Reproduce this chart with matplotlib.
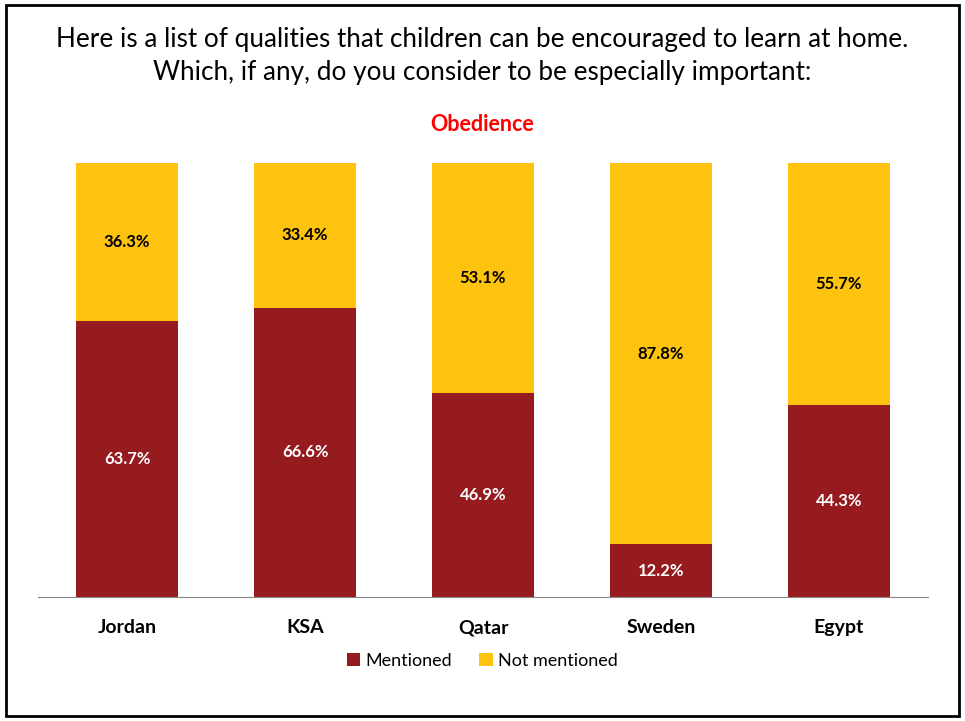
import matplotlib.pyplot as plt
from matplotlib.patches import Rectangle

plt.rcParams['font.family'] = ['Lato', 'DejaVu Sans']

# Data
countries = ['Jordan', 'KSA', 'Qatar', 'Sweden', 'Egypt']
mentioned = [63.7, 66.6, 46.9, 12.2, 44.3]
not_mentioned = [36.3, 33.4, 53.1, 87.8, 55.7]

red = '#951B1F'
yellow = '#FDC30F'

fig = plt.figure(figsize=(9.65, 7.21), dpi=100)
ax = fig.add_axes([0.0394, 0.172, 0.9223, 0.6019])

x = range(len(countries))
ax.bar(x, mentioned, width=0.57, color=red, label='Mentioned')
ax.bar(x, not_mentioned, width=0.57, bottom=mentioned, color=yellow, label='Not mentioned')

for i in x:
    ax.text(i, mentioned[i] / 2, f'{mentioned[i]:.1f}%', ha='center', va='center',
            color='white', fontsize=12, fontweight='bold')
    ax.text(i, mentioned[i] + not_mentioned[i] / 2, f'{not_mentioned[i]:.1f}%',
            ha='center', va='center', color='black', fontsize=12, fontweight='bold')

ax.set_xlim(-0.5, 4.5)
ax.set_ylim(0, 100)
ax.set_xticks(list(x))
ax.set_xticklabels(countries, fontsize=14, fontweight='bold')
ax.tick_params(axis='x', length=0, pad=16)
ax.set_yticks([])
for s in ['top', 'right', 'left']:
    ax.spines[s].set_visible(False)
ax.spines['bottom'].set_color('#888888')

fig.text(0.5, 0.945, 'Here is a list of qualities that children can be encouraged to learn at home.',
         ha='center', va='center', fontsize=18.8)
fig.text(0.5, 0.899, 'Which, if any, do you consider to be especially important:',
         ha='center', va='center', fontsize=18.8)
fig.text(0.5, 0.828, 'Obedience', ha='center', va='center', fontsize=15.5,
         fontweight='bold', color='#FF0000')

fig.legend(loc='center', bbox_to_anchor=(0.5, 0.083), ncol=2, frameon=False,
           fontsize=13, handlelength=0.75, handleheight=0.75, handletextpad=0.3,
           columnspacing=1.5)

fig.patches.append(Rectangle((0.006, 0.007), 0.988, 0.986, transform=fig.transFigure,
                             fill=False, edgecolor='black', linewidth=2))

fig.savefig('out.png', dpi=100)
